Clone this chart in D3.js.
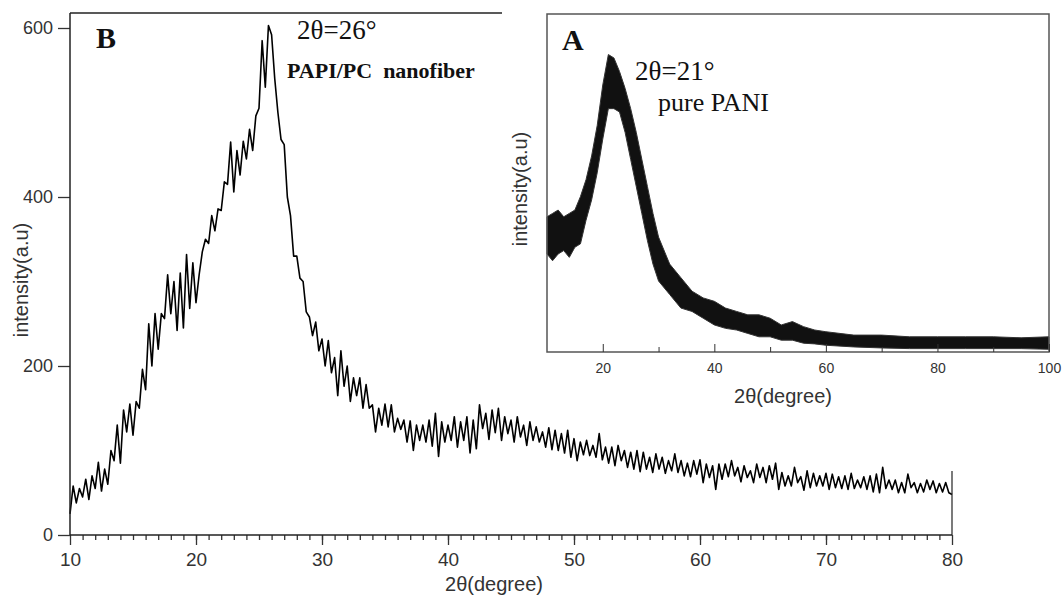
<!DOCTYPE html>
<html>
<head>
<meta charset="utf-8">
<script src="https://cdn.jsdelivr.net/npm/d3@7"></script>
<style>
  body { margin: 0; background: #fff; }
  svg { display: block; }
  .ax text { font-family: "Liberation Sans", Arial, sans-serif; fill: #333; }
  .ax line, .ax path { stroke: #333; }
  .note { font-family: "Liberation Serif", "Times New Roman", serif; fill: #111; white-space: pre; }
</style>
</head>
<body>
<svg id="chart" width="1062" height="597"></svg>
<script>
// ---- panel B : PAPI/PC nanofiber, read every 0.25 deg from 10 to 80 ----
const startB = 10, stepB = 0.25;
const intensityB = [
  25, 58, 38, 55,     45, 66, 42, 70,     55, 86, 52, 78,     60, 100, 88, 130,
  85, 148, 122, 155,  118, 158, 150, 196, 172, 250, 200, 262, 220, 262, 256, 308,
  262, 300, 242, 310, 245, 332, 268, 322, 275, 308, 335, 350, 345, 378, 360, 386,
  384, 418, 415, 465, 406, 455, 426, 466, 445, 480, 455, 496, 505, 585, 530, 603,
  592, 540, 500, 468, 462, 400, 378, 330, 330, 304, 300, 264, 258, 236, 252, 218,
  232, 200, 230, 192, 210, 165, 218, 176, 200, 158, 186, 165, 186, 150, 178, 150,
  154, 122, 150, 130, 155, 128, 154, 122, 138, 125, 136, 110, 135, 100, 130, 112,
  130, 110, 136, 105, 144, 93, 134, 110,  130, 112, 140, 104, 134, 112, 140, 97,
  136, 102, 154, 126, 144, 113, 148, 121, 150, 112, 140, 120, 136, 110, 140, 116,
  130, 106, 134, 112, 128, 110, 122, 104, 127, 101, 124, 100, 120, 97, 124, 92,
  114, 88, 110, 95,   112, 94, 106, 92,   120, 89, 104, 85,   104, 82, 106, 88,
  100, 80, 98, 78,    100, 75, 98, 78,    92, 74, 96, 78,     92, 73, 88, 76,
  96, 74, 88, 70,     85, 69, 88, 72,     89, 62, 84, 68,     82, 54, 84, 66,
  84, 69, 88, 70,     80, 63, 82, 68,     76, 62, 84, 68,     80, 62, 82, 66,
  85, 54, 74, 58,     70, 58, 80, 62,     69, 53, 76, 56,     73, 58, 70, 58,
  73, 54, 72, 56,     69, 55, 70, 54,     73, 55, 65, 56,     69, 54, 70, 51,
  72, 50, 80, 55,     65, 54, 65, 50,     62, 50, 72, 56,     62, 50, 61, 51,
  65, 54, 64, 50,     61, 51, 62, 50,     48
];
const yTicksB = [0, 200, 400, 600];
const xTicksB = [10, 20, 30, 40, 50, 60, 70, 80];

// ---- panel A (inset): pure PANI, lower / upper edge of the noisy band ----
const degA  = [10, 11, 12, 13, 14, 15, 16, 17, 18, 19, 20, 21, 22, 23, 24, 25, 26, 27, 28, 29, 30,
               32, 34, 36, 38, 40, 42, 44, 46, 48, 50, 52, 54, 56, 58, 60, 65, 70, 75, 80, 85, 90, 95, 100];
const lowA  = [29, 27, 29, 30, 28, 31, 32, 39, 45, 53, 63, 72, 72, 71, 65, 57, 49, 41, 33, 26, 21,
               17, 13, 12, 10, 8, 7, 6.5, 5.5, 4.5, 4.5, 3.5, 3.5, 2.6, 2.4, 2, 1.5, 1.2, 1, 1, 1, 1, 1, 0.8];
const highA = [40, 41, 42, 40, 41, 42, 46, 51, 58, 67, 79, 88, 87, 83, 78, 72, 65, 57, 49, 41, 34,
               26, 22, 18, 16, 15, 13, 12, 11, 11, 10, 8, 9, 7.5, 6.5, 6, 5, 5, 4.5, 4.5, 4.5, 4.5, 4.2, 4.5];
const xTicksA = [20, 40, 60, 80, 100];
const xMinorA = [30, 50, 70, 90];

const svg = d3.select("#chart");

// main scales
const x = d3.scaleLinear().domain([10, 80]).range([70, 952]);
const y = d3.scaleLinear().domain([0, 600]).range([535, 28]);

// main curve
const ptsB = intensityB.map((v, i) => [startB + i * stepB, v]);
svg.append("path")
  .datum(ptsB)
  .attr("fill", "none")
  .attr("stroke", "#000")
  .attr("stroke-width", 1.6)
  .attr("stroke-linejoin", "round")
  .attr("d", d3.line().x(d => x(d[0])).y(d => y(d[1])));

// y axis
const gy = svg.append("g").attr("class", "ax").attr("transform", "translate(70,0)")
  .call(d3.axisLeft(y).tickValues(yTicksB).tickSize(12).tickSizeOuter(0).tickPadding(5));
gy.select(".domain").remove();
gy.selectAll("line").attr("stroke-width", 1.3);
gy.selectAll("text").attr("font-size", 18).attr("font-family", null);

// x axis, major + minor ticks
const gx = svg.append("g").attr("class", "ax").attr("transform", "translate(0,535)")
  .call(d3.axisBottom(x).tickValues(xTicksB).tickSize(10).tickSizeOuter(0).tickPadding(8));
gx.select(".domain").remove();
gx.selectAll("line").attr("stroke-width", 1.3);
gx.selectAll("text").attr("font-size", 19).attr("font-family", null);

const gxm = svg.append("g").attr("class", "ax").attr("transform", "translate(0,535)")
  .call(d3.axisBottom(x).tickValues(d3.range(11, 80)).tickSize(5).tickSizeOuter(0).tickFormat(""));
gxm.select(".domain").remove();
gxm.selectAll("line").attr("stroke-width", 1.3);

// frame lines of panel B
const frame = svg.append("g").attr("stroke", "#222").attr("stroke-width", 1.5);
frame.append("line").attr("x1", 70).attr("x2", 70).attr("y1", 13).attr("y2", 535);
frame.append("line").attr("x1", 70).attr("x2", 952).attr("y1", 535).attr("y2", 535);
frame.append("line").attr("x1", 70).attr("x2", 502).attr("y1", 13).attr("y2", 13);
frame.append("line").attr("x1", 952).attr("x2", 952).attr("y1", 471).attr("y2", 535).attr("stroke-width", 1.2);

// axis titles
svg.append("text")
  .attr("x", 494).attr("y", 591).attr("text-anchor", "middle")
  .style("font-family", "'Liberation Sans', Arial, sans-serif").style("font-size", "20px").attr("fill", "#333")
  .text("2θ(degree)");
svg.append("text")
  .attr("transform", "translate(28,280) rotate(-90)").attr("text-anchor", "middle")
  .style("font-family", "'Liberation Sans', Arial, sans-serif").style("font-size", "20px").attr("fill", "#333")
  .text("intensity(a.u)");

// annotations panel B
svg.append("text").attr("class", "note").attr("x", 96).attr("y", 48)
  .style("font-size", "30px").style("font-weight", "bold").text("B");
svg.append("text").attr("class", "note").attr("x", 297).attr("y", 39)
  .style("font-size", "27px").text("2θ=26°");
svg.append("text").attr("class", "note").attr("x", 287).attr("y", 78)
  .style("font-size", "22px").style("font-weight", "bold").text("PAPI/PC  nanofiber");

// ---- inset A ----
const xa = d3.scaleLinear().domain([10, 100]).range([547, 1049]);
const ya = d3.scaleLinear().domain([0, 100]).range([352, 14]);

svg.append("rect").attr("x", 547).attr("y", 14).attr("width", 502).attr("height", 338).attr("fill", "#fff");

svg.append("path")
  .datum(degA.map((d, i) => ({ d: d, lo: lowA[i], hi: highA[i] })))
  .attr("fill", "#111")
  .attr("stroke", "#333")
  .attr("stroke-width", 1)
  .attr("d", d3.area().x(p => xa(p.d)).y0(p => ya(p.lo)).y1(p => ya(p.hi)));

svg.append("rect").attr("x", 547).attr("y", 14).attr("width", 502).attr("height", 338)
  .attr("fill", "none").attr("stroke", "#555").attr("stroke-width", 1.5);

const gxa = svg.append("g").attr("class", "ax").attr("transform", "translate(0,352)")
  .call(d3.axisBottom(xa).tickValues(xTicksA).tickSize(-8).tickSizeOuter(0).tickPadding(11));
gxa.select(".domain").remove();
gxa.selectAll("text").attr("font-size", 14).attr("font-family", null);
const gxam = svg.append("g").attr("class", "ax").attr("transform", "translate(0,352)")
  .call(d3.axisBottom(xa).tickValues(xMinorA).tickSize(-5).tickSizeOuter(0).tickFormat(""));
gxam.select(".domain").remove();

svg.append("text")
  .attr("x", 783).attr("y", 403).attr("text-anchor", "middle")
  .style("font-family", "'Liberation Sans', Arial, sans-serif").style("font-size", "20px").attr("fill", "#333")
  .text("2θ(degree)");
svg.append("text")
  .attr("transform", "translate(527,189) rotate(-90)").attr("text-anchor", "middle")
  .style("font-family", "'Liberation Sans', Arial, sans-serif").style("font-size", "20px").attr("fill", "#333")
  .text("intensity(a.u)");

svg.append("text").attr("class", "note").attr("x", 562).attr("y", 50)
  .style("font-size", "30px").style("font-weight", "bold").text("A");
svg.append("text").attr("class", "note").attr("x", 635).attr("y", 80)
  .style("font-size", "27px").text("2θ=21°");
svg.append("text").attr("class", "note").attr("x", 658).attr("y", 111)
  .style("font-size", "26px").text("pure PANI");
</script>
</body>
</html>
